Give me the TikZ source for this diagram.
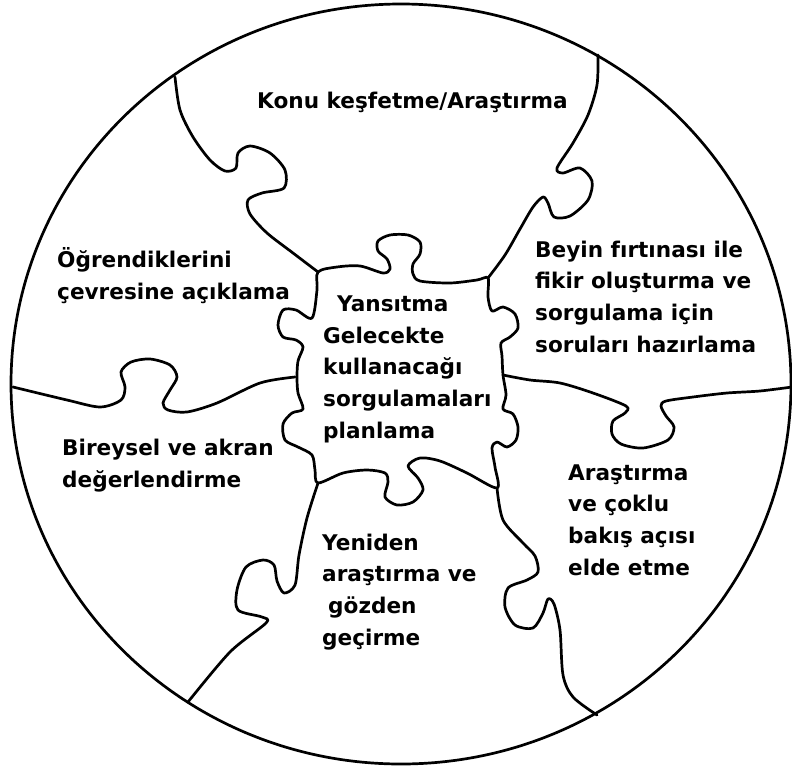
\documentclass[tikz,border=0pt]{standalone}
\usepackage{fontspec}
\setmainfont{DejaVu Sans}
\begin{document}
\begin{tikzpicture}[x=1pt,y=-1pt,
  edge/.style={line width=2.7pt, line join=round, line cap=round},
  label/.style={anchor=base west, inner sep=0pt, align=left,
    font=\bfseries\fontsize{21.6}{31.6}\selectfont}]
\useasboundingbox (0,0) rectangle (792,769);

% outer ring
\draw[edge] (401,384) ellipse [x radius=390, y radius=380];

% centre piece
\draw[edge] plot[smooth cycle, tension=0.5] coordinates {
  (318,272) (337,267) (360,266) (383,273) (390,269) (387,259) (378,251)
  (378,241) (390,235) (408,235) (420,242) (420,254) (413,264) (413,274)
  (420,281) (450,283) (477,280) (488,278)
  (488,297) (492,311) (503,307) (515,314) (518,328) (510,337) (501,343)
  (502,356) (503,375) (506,395) (503,409) (513,414) (518,427) (516,440)
  (507,447) (497,442) (492,448) (495,467) (497,488)
  (467,473) (440,461) (420,458) (408,466) (418,478) (423,490) (413,502)
  (397,505) (385,497) (388,482) (385,473) (367,470) (343,473) (318,483)
  (315,470) (312,455) (298,447) (285,440) (283,424) (292,413) (303,409)
  (298,393) (297,377) (298,361) (303,347) (296,340) (283,337) (278,325)
  (283,310) (296,310) (312,318) (317,290)};

% Konu / Öğrendiklerini
\draw[edge] plot[smooth, tension=0.5] coordinates {
  (175,77) (180,110) (193,137) (210,160) (225,171) (236,168) (238,153)
  (250,146) (270,153) (285,170) (284,188) (262,193) (248,200) (250,214)
  (267,233) (293,253) (318,272)};

% Konu / Beyin
\draw[edge] plot[smooth, tension=0.5] coordinates {
  (598,55) (597,85) (588,115) (573,143) (557,168) (563,173) (580,168)
  (592,181) (588,200) (570,216) (554,217) (548,203) (543,197) (533,207)
  (520,229) (505,255) (488,278)};

% Beyin / Araştırma
\draw[edge] plot[smooth, tension=0.5] coordinates {
  (503,375) (530,380) (560,383) (593,393) (626,406) (625,413) (613,421)
  (612,434) (621,444) (643,448) (668,440) (674,427) (666,416) (661,406)
  (666,401) (693,397) (727,393) (760,391) (792,387)};

% Araştırma / Yeniden
\draw[edge] plot[smooth, tension=0.5] coordinates {
  (497,488) (503,520) (523,543) (535,556) (538,572) (527,580) (508,588)
  (505,607) (515,625) (533,628) (543,613) (548,599) (554,604) (560,630)
  (563,675) (573,697) (597,715)};

% Yeniden / Bireysel
\draw[edge] plot[smooth, tension=0.5] coordinates {
  (318,483) (307,518) (299,555) (295,585) (284,593) (277,581) (274,565)
  (263,560) (246,567) (237,590) (238,610) (262,617) (266,623) (230,652)
  (188,702)};

% Bireysel / Öğrendiklerini
\draw[edge] plot[smooth, tension=0.5] coordinates {
  (13,387) (67,400) (100,407) (121,400) (125,387) (121,372) (131,362)
  (150,359) (170,365) (177,377) (170,390) (163,403) (168,410) (187,412)
  (217,403) (260,383) (295,377)};

% labels (each placed by the baseline of its last line)
\node[label] (konu) at (257,108) {Konu keşfetme/Araştırma};
\node[label] (ogren) at (57,299) {Öğrendiklerini\\çevresine açıklama};
\node[label] (beyin) at (535,352) {Beyin fırtınası ile\\fikir oluşturma ve\\sorgulama için\\soruları hazırlama};
\node[label] (yans) at (323,438) {\hspace{14pt}Yansıtma\\Gelecekte\\kullanacağı\\sorgulamaları\\planlama};
\node[label] (birey) at (62,487) {Bireysel ve akran\\değerlendirme};
\node[label] (arast) at (568,575) {Araştırma\\ve çoklu\\bakış açısı\\elde etme};
\node[label] (yeni) at (322,645) {Yeniden\\araştırma ve\\\hspace{6pt}gözden\\geçirme};
\end{tikzpicture}
\end{document}
